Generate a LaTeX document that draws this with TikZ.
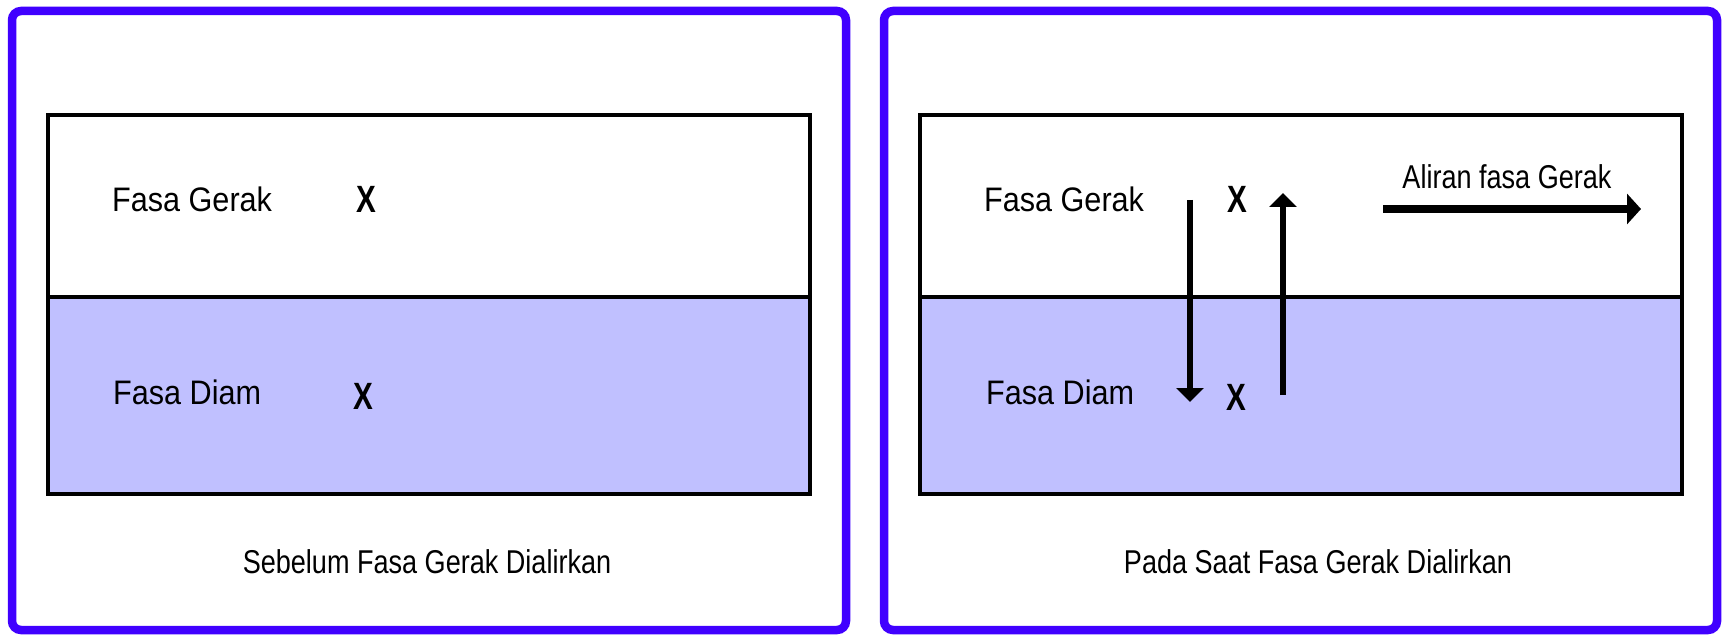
\documentclass[tikz,border=0pt]{standalone}
\usepackage{fontspec}
\setmainfont{Liberation Sans}
\usetikzlibrary{arrows.meta}
\definecolor{framecol}{RGB}{64,0,255}
\definecolor{stillcol}{RGB}{192,192,255}
\tikzset{
  frame/.style={draw=framecol,line width=8.5pt,rounded corners=9pt},
  phasebox/.style={draw=black,line width=4pt},
  stillbox/.style={fill=stillcol},
  label/.style={font=\fontsize{34}{40}\selectfont,xscale=0.9,anchor=base west,inner sep=0pt},
  caption/.style={font=\fontsize{33}{40}\selectfont,xscale=0.82,anchor=base,inner sep=0pt},
  solute/.style={font=\fontsize{38}{44}\selectfont\bfseries,xscale=0.78,inner sep=0pt},
  flow/.style={line width=6.5pt,-{Triangle[width=27pt,length=14pt]}},
  mainflow/.style={line width=8pt,-{Triangle[width=30pt,length=14pt]}},
}
\begin{document}
\begin{tikzpicture}[x=1pt,y=-1pt]
\useasboundingbox (0,0) rectangle (1727,636);
\fill[white] (0,0) rectangle (1727,636);

% ---------- left panel: before the mobile phase flows ----------
\draw[frame] (12,11) rectangle (846,630);
\fill[stillbox] (48,297) rectangle (810,494);
\draw[phasebox] (48,115) rectangle (810,494);
\draw[phasebox] (48,297) -- (810,297);
\node[label] (lg) at (112,212) {Fasa Gerak};
\node[label] (ld) at (113,404) {Fasa Diam};
\node[solute] (lx1) at (366,199) {X};
\node[solute] (lx2) at (363,396) {X};
\node[caption] (lcap) at (427,573) {Sebelum Fasa Gerak Dialirkan};

% ---------- right panel: while the mobile phase flows ----------
\draw[frame] (884,11) rectangle (1717,630);
\fill[stillbox] (920,297) rectangle (1682,494);
\draw[phasebox] (920,115) rectangle (1682,494);
\draw[phasebox] (920,297) -- (1682,297);
\node[label] (rg) at (984,212) {Fasa Gerak};
\node[label] (rd) at (986,404) {Fasa Diam};
\node[solute] (rx1) at (1237,199) {X};
\node[solute] (rx2) at (1236,397) {X};
\node[caption] (rcap) at (1318,573) {Pada Saat Fasa Gerak Dialirkan};
\node[caption,anchor=center] (flowlbl) at (1507,177) {Aliran fasa Gerak};

% exchange between the phases
\coordinate (downA) at (1190,200);
\coordinate (downB) at (1190,402);
\coordinate (upA) at (1283,395);
\coordinate (upB) at (1283,193);
\draw[flow] (downA) -- (downB);
\draw[flow] (upA) -- (upB);

% direction of the mobile phase
\coordinate (flowA) at (1383,209);
\coordinate (flowB) at (1641,209);
\draw[mainflow] (flowA) -- (flowB);
\end{tikzpicture}
\end{document}
